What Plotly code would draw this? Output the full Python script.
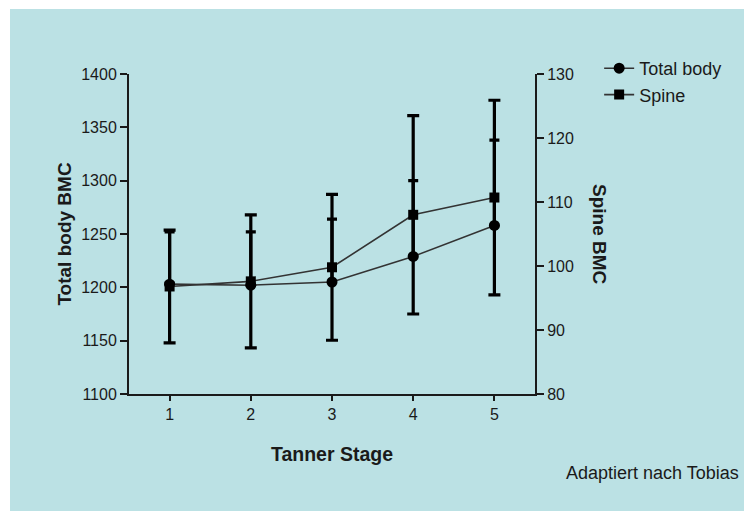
import plotly.graph_objects as go

# ---- data ----
tanner_stage = [1, 2, 3, 4, 5]
total_body = [1203, 1202, 1205, 1229, 1258]
total_body_err_up = [49, 50, 59, 71, 80]
spine = [96.8, 97.6, 99.8, 108.0, 110.7]
spine_err = [8.8, 10.4, 11.4, 15.5, 15.2]

BG = "#BBE1E4"
INK = "#1a1a1a"
FONT = "Liberation Sans, Arial, Helvetica, sans-serif"

# figure is 744x503 because the page body adds an 8px margin
W, H = 744, 503
ML, MR, MT, MB = 121, 217, 66, 117
PW, PH = W - ML - MR, H - MT - MB

fig = go.Figure()

fig.add_trace(go.Scatter(
    x=tanner_stage, y=spine, name="Spine", yaxis="y2",
    mode="lines+markers",
    line=dict(color="#333333", width=1.6),
    marker=dict(symbol="square", size=10, color="black"),
    error_y=dict(type="data", array=spine_err, symmetric=True,
                 color="black", thickness=3.2, width=6),
    showlegend=True, legendrank=2,
))

fig.add_trace(go.Scatter(
    x=tanner_stage, y=total_body, name="Total body", yaxis="y",
    mode="lines+markers",
    line=dict(color="#333333", width=1.6),
    marker=dict(symbol="circle", size=11, color="black"),
    error_y=dict(type="data", array=total_body_err_up,
                 arrayminus=[0] * len(total_body_err_up), symmetric=False,
                 color="black", thickness=3.2, width=5),
    showlegend=True, legendrank=1,
))

axis_common = dict(
    showline=True, linecolor=INK, linewidth=2,
    ticks="outside", tickcolor=INK, tickwidth=2,
    showgrid=False, zeroline=False,
    tickfont=dict(family=FONT, size=16, color=INK),
)

fig.update_layout(
    width=W, height=H,
    margin=dict(l=ML, r=MR, t=MT, b=MB, autoexpand=False),
    paper_bgcolor="white",
    plot_bgcolor=BG,
    font=dict(family=FONT, color=INK),
    xaxis=dict(
        range=[0.5, 5.5], tickvals=tanner_stage, ticklen=5,
        title=dict(text="<b>Tanner Stage</b>", font=dict(size=19.5, family=FONT, color=INK), standoff=25),
        **axis_common,
    ),
    yaxis=dict(
        range=[1100, 1400], dtick=50, ticklen=7,
        title=dict(text="<b>Total body BMC</b>", font=dict(size=19, family=FONT, color=INK), standoff=5),
        **axis_common,
    ),
    yaxis2=dict(
        range=[80, 130], dtick=10, ticklen=7,
        overlaying="y", side="right", anchor="x",
        **axis_common,
    ),
    legend=dict(
        x=1.158, y=1.075, xanchor="left", yanchor="top",
        bgcolor="rgba(0,0,0,0)", borderwidth=0,
        font=dict(family=FONT, size=18, color=INK),
        tracegroupgap=0, itemwidth=30,
    ),
    shapes=[dict(
        type="rect", xref="paper", yref="paper", layer="below",
        x0=(2 - ML) / PW, x1=(W + 20 - ML) / PW,
        y0=(MT + PH - H - 20) / PH, y1=(MT + PH - 1) / PH,
        fillcolor=BG, line=dict(width=0),
    )],
    annotations=[
        dict(text="<b>Spine BMC</b>", textangle=90, xref="paper", yref="paper",
             x=(600 - 129) / 406, y=0.5, xanchor="center", yanchor="middle",
             showarrow=False, font=dict(family=FONT, size=19, color=INK)),
        dict(text="Adaptiert nach Tobias", xref="paper", yref="paper",
             x=(564 - 129) / 406, y=(394 - 472.7) / 320, xanchor="left", yanchor="middle",
             showarrow=False, font=dict(family=FONT, size=18, color=INK)),
    ],
)

fig.write_html("out.html")
